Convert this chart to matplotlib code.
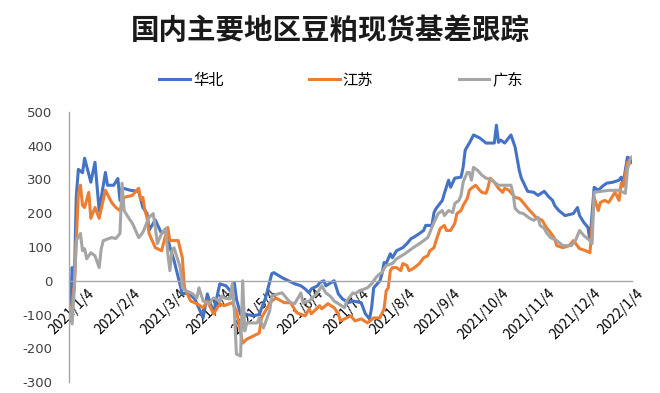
import matplotlib
matplotlib.use('Agg')
import matplotlib.pyplot as plt

plt.rcParams['font.family'] = ['Noto Sans CJK SC', 'DejaVu Sans']

title = '国内主要地区豆粕现货基差跟踪'
series_names = ['华北', '江苏', '广东']
colors = ['#4472C4', '#ED7D31', '#A5A5A5']

tick_labels = ['2021/1/4', '2021/2/4', '2021/3/4', '2021/4/4', '2021/5/4', '2021/6/4',
               '2021/7/4', '2021/8/4', '2021/9/4', '2021/10/4', '2021/11/4', '2021/12/4',
               '2022/1/4']
tick_day = [1, 23, 45, 67, 89, 111, 133, 155, 177, 199, 221, 243, 265]

# trading-day index / basis value
huabei_day = [0, 1, 2, 3, 4, 6, 7, 10, 12, 14, 17, 18, 21, 23, 24, 25, 29, 33, 35, 37, 38, 41, 44, 46,
              48, 50, 52, 54, 57, 60, 64, 66, 69, 72, 75, 77, 78, 79, 80, 82, 84, 88, 91, 92, 94, 97,
              98, 102, 105, 108, 111, 113, 115, 116, 119, 120, 122, 123, 127, 129, 131, 134, 136, 140,
              142, 144, 145, 146, 149, 150, 151, 152, 154, 155, 157, 160, 162, 164, 165, 168, 170, 171,
              174, 175, 176, 179, 180, 182, 183, 185, 188, 189, 190, 192, 194, 197, 200, 204, 205, 206,
              207, 209, 212, 214, 216, 217, 220, 223, 225, 228, 230, 232, 233, 235, 238, 242, 244, 245,
              247, 249, 250, 252, 254, 256, 258, 261, 264, 265, 266, 268, 269, 270]
huabei_val = [-119, 39, -21, 250, 330, 320, 363, 292, 351, 208, 321, 283, 283, 303, 238, 275, 268, 265,
              217, 200, 150, 180, 140, 150, 100, 60, 10, -39, -36, -54, -110, -39, -95, -9, -15, -30, -36,
              -6, -54, -100, -98, -104, -100, -83, -51, 21, 24, 9, 0, -9, -15, -24, -36, -24, -15, -6, 0,
              -15, 0, -39, -54, -65, -60, -65, -98, -113, -80, -21, 0, 21, 54, 51, 80, 68, 89, 98, 110,
              125, 128, 140, 149, 164, 164, 202, 214, 238, 259, 298, 277, 304, 307, 336, 387, 408, 432,
              423, 408, 408, 461, 410, 417, 408, 432, 396, 327, 304, 265, 262, 253, 265, 250, 238, 223,
              208, 193, 199, 217, 193, 173, 158, 119, 277, 268, 280, 289, 292, 298, 307, 290, 366, 363,
              351]

jiangsu_day = [0, 2, 4, 5, 6, 7, 9, 10, 12, 14, 17, 19, 20, 22, 24, 26, 30, 32, 33, 34, 35, 36, 37, 38,
               41, 44, 47, 48, 52, 54, 55, 58, 61, 64, 66, 69, 72, 74, 78, 80, 83, 85, 88, 91, 92, 96,
               97, 99, 103, 106, 109, 113, 115, 116, 120, 121, 124, 127, 129, 130, 132, 135, 137, 140,
               143, 146, 149, 151, 152, 153, 154, 155, 157, 159, 160, 162, 163, 165, 168, 170, 172, 173,
               175, 176, 178, 180, 181, 183, 185, 186, 188, 189, 191, 192, 193, 195, 197, 198, 200, 201,
               202, 204, 206, 208, 209, 211, 214, 216, 217, 219, 221, 222, 224, 227, 229, 231, 233, 234,
               237, 240, 242, 245, 248, 250, 252, 254, 255, 257, 259, 262, 264, 265, 266, 268, 269]
jiangsu_val = [-110, -20, 259, 283, 223, 217, 262, 185, 217, 185, 268, 244, 232, 217, 208, 247, 253, 268,
               274, 240, 247, 208, 188, 140, 98, 89, 158, 119, 119, 68, -21, -60, -68, -80, -60, -98, -68,
               -74, -65, -89, -185, -173, -164, -155, -110, -68, -60, -51, -65, -65, -95, -104, -83, -98,
               -74, -83, -68, -80, -98, -119, -113, -104, -119, -113, -125, -110, -110, -83, -30, -21, 30,
               39, 39, 30, 51, 45, 30, 36, 51, 68, 74, 89, 98, 119, 155, 164, 149, 149, 170, 199, 208,
               223, 244, 268, 274, 283, 268, 262, 259, 277, 304, 292, 274, 262, 274, 268, 247, 244, 238,
               223, 208, 202, 188, 179, 158, 143, 125, 104, 98, 104, 119, 95, 89, 83, 247, 208, 232, 238,
               232, 262, 238, 289, 280, 351, 348]

guangdong_day = [0, 1, 2, 3, 5, 6, 7, 8, 10, 12, 14, 15, 16, 20, 22, 24, 25, 26, 28, 30, 33, 35, 38, 40,
                 41, 42, 44, 46, 47, 48, 49, 50, 53, 54, 56, 59, 61, 62, 64, 67, 69, 72, 73, 74, 77, 78,
                 79, 80, 82, 83, 84, 85, 90, 91, 93, 96, 97, 100, 102, 104, 106, 108, 111, 112, 115, 119,
                 121, 123, 125, 127, 129, 132, 133, 136, 137, 139, 143, 145, 147, 149, 150, 151, 152, 155,
                 157, 161, 163, 165, 168, 170, 172, 174, 175, 177, 179, 180, 182, 184, 185, 187, 188, 189,
                 190, 191, 192, 193, 194, 196, 198, 200, 203, 204, 206, 212, 213, 214, 216, 218, 221, 223,
                 225, 226, 228, 229, 231, 234, 237, 241, 243, 245, 247, 250, 251, 252, 259, 264, 267, 268,
                 269, 270]
guangdong_val = [-80, -128, -30, 119, 140, 89, 95, 65, 83, 74, 39, 95, 119, 128, 125, 140, 289, 208, 188,
                 170, 128, 143, 188, 199, 158, 110, 140, 155, 80, 30, 89, 98, 39, -21, -30, -39, -51, -21,
                 -60, -68, -51, -60, -45, -51, -54, -9, -89, -217, -223, 0, -149, -125, -125, -110, -140,
                 -89, -45, -39, -36, -51, -65, -68, -36, -65, -60, -36, -15, -36, -45, -60, -68, -80, -60,
                 -36, -39, -30, -21, -9, 9, 21, 24, 36, 45, 51, 65, 80, 89, 98, 110, 119, 128, 158, 173,
                 199, 208, 193, 208, 202, 229, 238, 253, 292, 307, 321, 321, 298, 336, 327, 313, 304, 298,
                 292, 283, 283, 259, 214, 202, 199, 185, 179, 188, 164, 155, 143, 128, 119, 104, 104, 119,
                 149, 134, 119, 110, 262, 268, 268, 259, 327, 357, 366]

fig = plt.figure(figsize=(6.6, 3.93), dpi=100)
ax = fig.add_axes([69 / 660, 11 / 393, 563 / 660, 270 / 393])

for name, days, vals, c in [(series_names[0], huabei_day, huabei_val, colors[0]),
                            (series_names[1], jiangsu_day, jiangsu_val, colors[1]),
                            (series_names[2], guangdong_day, guangdong_val, colors[2])]:
    ax.plot(days, vals, color=c, lw=2.2, label=name, solid_joinstyle='round')

ax.set_xlim(-0.5, 270.2)
ax.set_ylim(-300, 500)
ax.set_yticks(range(-300, 501, 100))
ax.set_yticklabels([str(v) for v in range(-300, 501, 100)], fontsize=9.5,
                   family=['DejaVu Sans'], color='#404040')
ax.tick_params(axis='y', length=0, pad=12)
ax.set_xticks(tick_day)
ax.set_xticklabels(tick_labels, fontsize=8.8, family=['DejaVu Sans'], color='#262626')
ax.tick_params(axis='x', length=0, pad=4, labelrotation=45)
for lab in ax.get_xticklabels():
    lab.set_horizontalalignment('right')
    lab.set_verticalalignment('top')
    lab.set_rotation_mode('default')

ax.spines['top'].set_visible(False)
ax.spines['right'].set_visible(False)
ax.spines['bottom'].set_position(('data', 0))
ax.spines['bottom'].set_color('#A6A6A6')
ax.spines['left'].set_color('#A6A6A6')
ax.spines['bottom'].set_linewidth(1.0)
ax.spines['left'].set_linewidth(1.0)
ax.set_facecolor('none')

fig.text(0.5, 1 - 31 / 393, title, ha='center', va='center', fontsize=20.5,
         fontweight='bold', color='#1a1a1a')

fig.legend(loc='center', bbox_to_anchor=(341 / 660, 1 - 80 / 393), ncol=3, frameon=False,
           fontsize=11, handlelength=2.0, columnspacing=5.6, handletextpad=0.2)

fig.savefig('out.png', dpi=100)
